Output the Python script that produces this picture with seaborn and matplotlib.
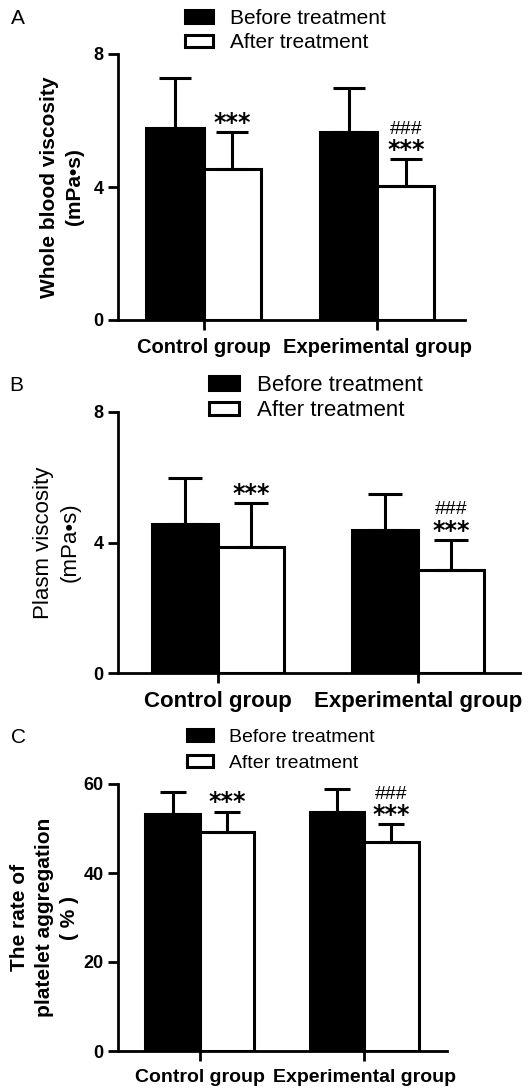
import matplotlib
matplotlib.use("Agg")
import matplotlib.pyplot as plt
import seaborn as sns
import pandas as pd
import numpy as np
from matplotlib.transforms import blended_transform_factory

sns.set_style("ticks")
plt.rcParams['font.family'] = ['Liberation Sans', 'DejaVu Sans']
plt.rcParams['text.color'] = 'black'
plt.rcParams['axes.labelcolor'] = 'black'
plt.rcParams['xtick.color'] = 'black'
plt.rcParams['ytick.color'] = 'black'
plt.rcParams['axes.edgecolor'] = 'black'

groups = ["Control group", "Experimental group"]
treatments = ["Before treatment", "After treatment"]

# Panel A: whole blood viscosity
a_before = [5.77, 5.65]
a_before_sd = [1.51, 1.32]
a_after = [4.54, 4.03]
a_after_sd = [1.12, 0.81]

# Panel B: plasma viscosity
b_before = [4.57, 4.38]
b_before_sd = [1.42, 1.10]
b_after = [3.87, 3.16]
b_after_sd = [1.33, 0.92]

# Panel C: platelet aggregation rate
c_before = [53.2, 53.8]
c_before_sd = [5.0, 5.1]
c_after = [49.3, 46.9]
c_after_sd = [4.5, 4.1]

yticks_ab = [0, 4, 8]
yticks_c = [0, 20, 40, 60]

W, H = 530, 1089
fig = plt.figure(figsize=(W / 100, H / 100), dpi=100)


def px_axes(left, top, right, bottom):
    return fig.add_axes([left / W, 1 - bottom / H, (right - left) / W, (bottom - top) / H])


def panel(ax, before, before_sd, after, after_sd, ylim, yticks, xlim,
          ylabel, ylabel_weight, ylabel_size, ylabel_xr, xlabel_size, capsize,
          legend_xy, legend_size, legend_spacing, letter, letter_xy):
    df = pd.DataFrame({
        "group": groups * 2,
        "treatment": [treatments[0]] * 2 + [treatments[1]] * 2,
        "value": list(before) + list(after),
    })
    sns.barplot(data=df, x="group", y="value", hue="treatment",
                order=groups, hue_order=treatments,
                palette=["black", "white"], edgecolor="black", linewidth=2.2,
                width=0.66, errorbar=None, ax=ax, saturation=1)
    sds = [before_sd, after_sd]
    after_tops = None
    bar_conts = list(ax.containers)
    for i, cont in enumerate(bar_conts):
        xs = [p.get_x() + p.get_width() / 2 for p in cont.patches]
        ys = [p.get_height() for p in cont.patches]
        err = sds[i]
        ax.errorbar(xs, ys, yerr=[np.zeros(len(err)), err], fmt="none",
                    ecolor="black", elinewidth=2.2, capsize=capsize,
                    capthick=2.2, zorder=1)
        if i == 1:
            after_tops = [(x, y + e) for x, y, e in zip(xs, ys, err)]
    for j, (x, yt) in enumerate(after_tops):
        ax.annotate("***", (x, yt), xytext=(0, -2), textcoords="offset points",
                    ha="center", va="bottom", fontsize=17, fontweight="bold",
                    family="DejaVu Sans")
        if j == 1:
            ax.annotate("###", (x, yt), xytext=(0, 15.5), textcoords="offset points",
                        ha="center", va="bottom", fontsize=14)
    ax.set_ylim(*ylim)
    ax.set_yticks(yticks)
    ax.set_xlim(*xlim)
    ax.set_xlabel("")
    ax.set_ylabel(ylabel, fontsize=ylabel_size, fontweight=ylabel_weight,
                  linespacing=1.4)
    tr = blended_transform_factory(fig.transFigure, ax.transAxes)
    ax.yaxis.set_label_coords(ylabel_xr / W, 0.5, transform=tr)
    sns.despine(ax=ax)
    for s in ["left", "bottom"]:
        ax.spines[s].set_linewidth(2.0)
        ax.spines[s].set_color("black")
    ax.tick_params(axis="y", length=7.2, width=2.0, pad=3, labelsize=13, colors="black")
    ax.tick_params(axis="x", length=7.2, width=2.0, pad=6, labelsize=xlabel_size, colors="black")
    for t in ax.get_yticklabels():
        t.set_fontweight("bold")
    for t in ax.get_xticklabels():
        t.set_fontweight("bold")
    handles, labels = ax.get_legend_handles_labels()
    if ax.get_legend() is not None:
        ax.get_legend().remove()
    fig.legend(handles, labels, loc="upper left",
               bbox_to_anchor=(legend_xy[0] / W, 1 - legend_xy[1] / H),
               frameon=False, fontsize=legend_size, borderpad=0, borderaxespad=0,
               handlelength=1.35, handleheight=0.55, handletextpad=0.8,
               labelspacing=legend_spacing)
    fig.text(letter_xy[0] / W, 1 - letter_xy[1] / H, letter, fontsize=15,
             ha="left", va="top")


axA = px_axes(118, 54, 465, 320)
axB = px_axes(118, 412, 520, 673)
axC = px_axes(118, 784, 447, 1051)

panel(axA, a_before, a_before_sd, a_after, a_after_sd, (0, 8), yticks_ab,
      (-0.494, 1.506), "Whole blood viscosity\n(mPa\u2022s)", "bold", 15, 84,
      14.5, 11.5, (185, 9), 15, 0.25, "A", (11, 9))
panel(axB, b_before, b_before_sd, b_after, b_after_sd, (0, 8), yticks_ab,
      (-0.5, 1.51), "Plasm viscosity\n(mPa\u2022s)", "normal", 16, 81,
      16, 12.5, (209, 375), 16, 0.2, "B", (9, 376))
panel(axC, c_before, c_before_sd, c_after, c_after_sd, (0, 60), yticks_c,
      (-0.497, 1.503), "The rate of\nplatelet aggregation\n( % )", "bold", 15, 79,
      14, 9.7, (187, 729), 14, 0.45, "C", (11, 728))

fig.savefig("out.png", dpi=100)
